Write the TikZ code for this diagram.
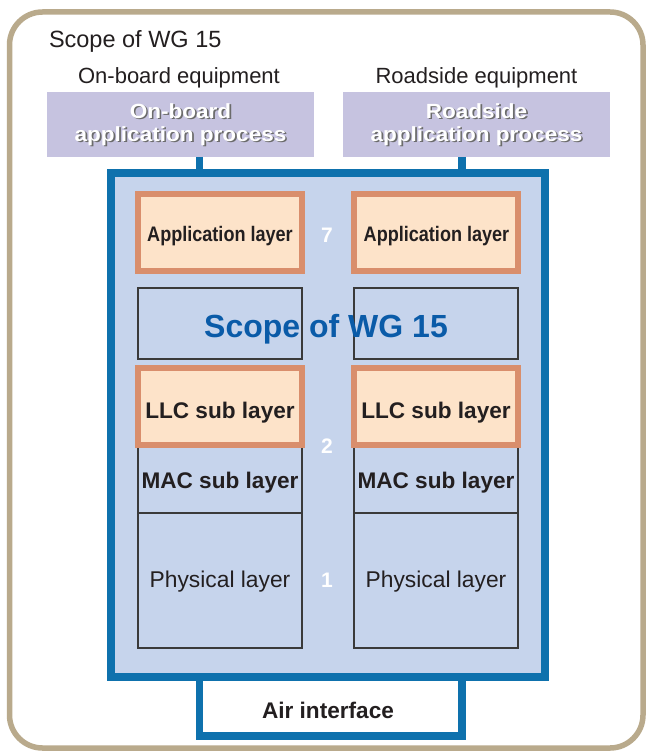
\documentclass[tikz,border=0pt]{standalone}
\usepackage{fontspec}
\usepackage{graphicx}
\setmainfont{Liberation Sans}
\definecolor{beige}{HTML}{B9AA8C}
\definecolor{procfill}{HTML}{C6C3E0}
\definecolor{blueline}{HTML}{0E71AD}
\definecolor{bluefill}{HTML}{C6D4EC}
\definecolor{orangeline}{HTML}{D98E6C}
\definecolor{orangefill}{HTML}{FDE3C9}
\definecolor{scopeblue}{HTML}{0A5BA8}
\definecolor{darktext}{HTML}{231F20}
\definecolor{thinline}{HTML}{3A3A3A}
\definecolor{shadowgray}{HTML}{6B6B6B}
\newcommand\shadowed[1]{\leavevmode\rlap{\kern1.5pt\raisebox{-1.5pt}{\textcolor{shadowgray}{#1}}}#1}
\newcommand\proclines[2]{\scalebox{1.1}[1]{\begin{tabular}[t]{@{}c@{}}\shadowed{#1}\\\shadowed{#2}\end{tabular}}}
\begin{document}
\begin{tikzpicture}[x=1pt,y=-1pt,
  every node/.style={inner sep=0pt, outer sep=0pt},
  proc/.style={fill=procfill, minimum width=267pt, minimum height=65pt},
  proctext/.style={font=\bfseries\fontsize{20.5}{23}\selectfont, anchor=base, text=white},
  layerbox/.style={draw=orangeline, line width=6pt, fill=orangefill, minimum width=164pt, minimum height=77pt},
  thinbox/.style={draw=thinline, line width=1.2pt, minimum width=164pt},
  conn/.style={draw=blueline, line width=7.5pt},
  lbl/.style={font=\fontsize{22}{26}\selectfont, text=darktext, anchor=base},
  boldlbl/.style={font=\bfseries\fontsize{22.6}{26}\selectfont, text=darktext, anchor=base},
  applbl/.style={font=\bfseries\fontsize{21}{24}\selectfont, text=darktext, anchor=base},
  num/.style={font=\bfseries\fontsize{21}{24}\selectfont, text=white, anchor=base}
]
\useasboundingbox (0,0) rectangle (646,751);
\clip (0,0) rectangle (646,751);
\fill[white] (0,0) rectangle (646,751);

% outer scope frame
\draw[beige, line width=5.5pt, rounded corners=33pt] (9.5,12) rectangle (643,748);
\node[lbl, font=\fontsize{23.5}{26}\selectfont, anchor=base west] (scopetitle) at (49,48) {Scope of WG 15};

% equipment labels
\node[lbl] (oblabel) at (179,84) {On-board equipment};
\node[lbl] (rslabel) at (476.5,84) {Roadside equipment};

% application process boxes
\node[proc] (pl) at (180.5,124.5) {};
\node[proc] (pr) at (476.5,124.5) {};
\node[proctext] (pltext) at (180.5,118.5) {\proclines{On-board}{application process}};
\node[proctext] (prtext) at (476.5,118.5) {\proclines{Roadside}{application process}};

% air interface box
\node[draw=blueline, line width=7.5pt, fill=white, minimum width=262.5pt, minimum height=59pt] (air) at (330.75,706.5) {};
\node[boldlbl] (airtext) at (328,718) {Air interface};

% main blue box
\node[draw=blueline, line width=7.5pt, fill=bluefill, minimum width=434pt, minimum height=504pt] (blue) at (328,425) {};

% connectors
\draw[conn] (pl.south -| air.west) -- (blue.north -| air.west);
\draw[conn] (pr.south -| air.east) -- (blue.north -| air.east);

% application layers
\node[layerbox] (appl) at (220,232.5) {};
\node[layerbox] (appr) at (436,232.5) {};
\node[applbl] (appltext) at (220,241) {\scalebox{0.86}[1]{Application layer}};
\node[applbl] (apprtext) at (436.5,241) {\scalebox{0.86}[1]{Application layer}};

% scope boxes
\node[thinbox, minimum height=71pt] (scl) at (220,323.5) {};
\node[thinbox, minimum height=71pt] (scr) at (436,323.5) {};
\node[font=\bfseries\fontsize{32}{36}\selectfont, text=scopeblue, anchor=base] (scopemid) at (326,337) {Scope of WG 15};

% MAC and physical
\node[thinbox, minimum height=68pt] (macl) at (220,479) {};
\node[thinbox, minimum height=68pt] (macr) at (436,479) {};
\node[thinbox, minimum height=135pt] (phyl) at (220,580.5) {};
\node[thinbox, minimum height=135pt] (phyr) at (436,580.5) {};
\draw[thinline, line width=2pt] (phyl.north west) -- (phyl.north east);
\draw[thinline, line width=2pt] (phyr.north west) -- (phyr.north east);
\node[boldlbl] (macltext) at (220,488) {MAC sub layer};
\node[boldlbl] (macrtext) at (436,488) {MAC sub layer};
\node[lbl, font=\fontsize{22.8}{26}\selectfont] (phyltext) at (220,587) {Physical layer};
\node[lbl, font=\fontsize{22.8}{26}\selectfont] (phyrtext) at (436,587) {Physical layer};

% LLC
\node[layerbox] (llcl) at (220,406.5) {};
\node[layerbox] (llcr) at (436,406.5) {};
\node[boldlbl] (llcltext) at (220,418) {LLC sub layer};
\node[boldlbl] (llcrtext) at (436,418) {LLC sub layer};

% layer numbers
\node[num] (n7) at (327,242) {7};
\node[num] (n2) at (327,453) {2};
\node[num] (n1) at (327,587) {1};
\end{tikzpicture}
\end{document}
